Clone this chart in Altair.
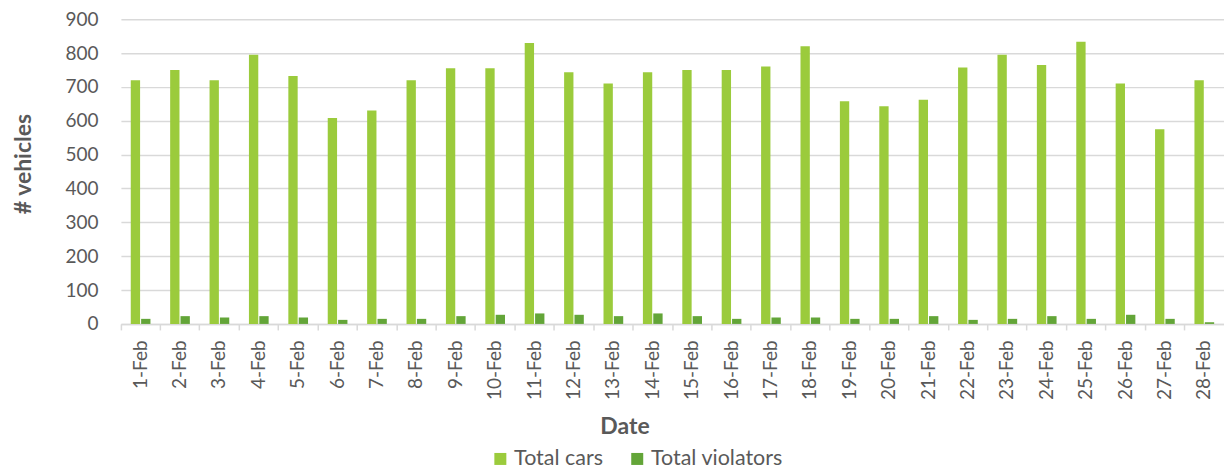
import altair as alt
import pandas as pd

dates = [f"{d}-Feb" for d in range(1, 29)]
total_cars = [720, 750, 720, 795, 732, 608, 630, 720, 755, 755, 830, 743, 710, 743,
              750, 750, 760, 820, 658, 643, 662, 757, 795, 765, 833, 710, 575, 720]
total_violators = [15, 23, 19, 23, 19, 12, 15, 15, 23, 27, 31, 27, 23, 31,
                   23, 15, 19, 19, 15, 15, 23, 12, 15, 23, 15, 27, 15, 5]
series_names = ["Total cars", "Total violators"]
series_colors = ["#9BCB3C", "#63A538"]
y_ticks = [0, 100, 200, 300, 400, 500, 600, 700, 800, 900]

df = pd.DataFrame({"Date": dates, "Total cars": total_cars, "Total violators": total_violators})
long = df.melt(id_vars="Date", var_name="series", value_name="value")

FONT = "Lato"
GREY = "#595959"

chart = alt.Chart(long).mark_bar().encode(
    x=alt.X("Date:N", sort=dates,
            scale=alt.Scale(paddingInner=0, paddingOuter=0),
            axis=alt.Axis(title="Date", labelAngle=-90, bandPosition=0,
                          tickColor="#D9D9D9", tickWidth=1.5, tickSize=6,
                          domainColor="#D9D9D9", domainWidth=1.5,
                          labelPadding=10, labelFontSize=19, labelColor=GREY, labelFont=FONT,
                          titleFontSize=23, titleFontWeight="bold", titleColor=GREY, titleFont=FONT,
                          titleX=504, titleY=103, titleBaseline="middle", titleAlign="center")),
    xOffset=alt.XOffset("series:N", sort=series_names,
                        scale=alt.Scale(paddingInner=0.1, paddingOuter=0.95)),
    y=alt.Y("value:Q", scale=alt.Scale(domain=[0, 900], nice=False),
            axis=alt.Axis(title="# vehicles", values=y_ticks, ticks=False, domain=False,
                          gridColor="#D9D9D9", gridWidth=1.5,
                          labelPadding=23, labelFontSize=19, labelColor=GREY, labelFont=FONT,
                          titleFontSize=23, titleFontWeight="bold", titleColor=GREY, titleFont=FONT,
                          titleX=-97, titleY=144.5, titleBaseline="middle", titleAlign="center",
                          titleAngle=270)),
    color=alt.Color("series:N", sort=series_names,
                    scale=alt.Scale(domain=series_names, range=series_colors),
                    legend=alt.Legend(title=None, orient="none", direction="horizontal",
                                      legendX=369, legendY=429,
                                      symbolType="square", symbolSize=144, symbolStrokeWidth=0,
                                      labelFontSize=21.5, labelColor=GREY, labelFont=FONT,
                                      labelOffset=3, columnPadding=23)),
).properties(
    width=1104,
    height=305,
    autosize=alt.AutoSizeParams(type="none"),
    padding={"left": 113, "top": 11, "right": 0, "bottom": 148},
).configure_view(stroke=None)

chart.save("out.html", embed_options={"renderer": "svg", "actions": False})
